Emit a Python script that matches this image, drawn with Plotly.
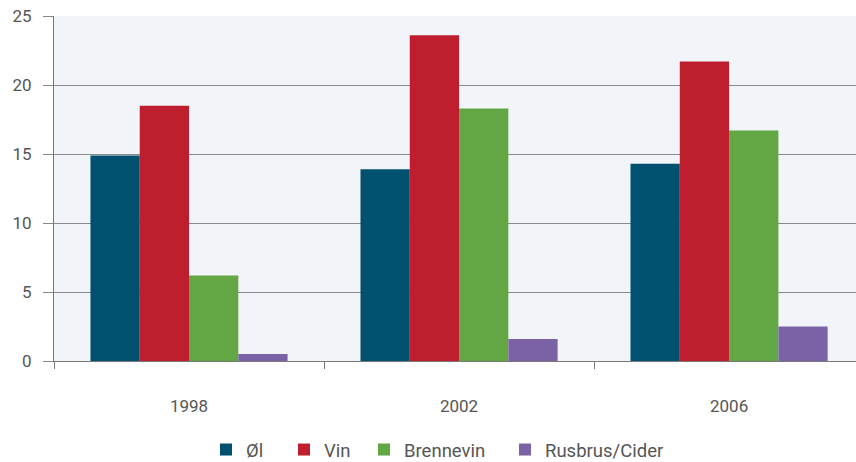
import plotly.graph_objects as go

years = ["1998", "2002", "2006"]
series_names = ["Øl", "Vin", "Brennevin", "Rusbrus/Cider"]
ol = [14.9, 13.9, 14.3]
vin = [18.5, 23.6, 21.7]
brennevin = [6.2, 18.3, 16.7]
rusbrus = [0.5, 1.6, 2.5]
y_ticks = [0, 5, 10, 15, 20, 25]

colors = ["#00506F", "#BE1E2D", "#62A744", "#7B62A6"]
values = [ol, vin, brennevin, rusbrus]
legend_px = [220, 298, 378, 519]  # left edge of each legend swatch, in pixels

L, R, T, B, W, H = 54, 0, 16, 101, 856, 462
pw = W - L - R
ph = H - T - B

fig = go.Figure()
legend_ids = ["legend", "legend2", "legend3", "legend4"]
for name, vals, c, lid in zip(series_names, values, colors, legend_ids):
    fig.add_trace(go.Bar(x=years, y=vals, name=name, legend=lid,
                         marker=dict(color=c, line=dict(width=0))))

layout_legends = {}
for lid, px in zip(legend_ids, legend_px):
    layout_legends[lid] = dict(orientation="h", x=(px - 14 - L) / pw, xanchor="left",
                               y=(T + ph - 450) / ph, yanchor="middle",
                               font=dict(size=18.5, color="#555555"), itemwidth=30,
                               bgcolor="rgba(0,0,0,0)")

fig.update_layout(
    width=W, height=H,
    margin=dict(l=L, r=R, t=T, b=B, autoexpand=False),
    barmode="group", bargap=0.27, bargroupgap=0,
    plot_bgcolor="#F1F4F8", paper_bgcolor="white",
    font=dict(family="Roboto, sans-serif", size=17, color="#555555"),
    showlegend=True,
    **layout_legends,
)
fig.update_xaxes(type="category", range=[-0.5, 2.47], tickson="boundaries", ticks="outside",
                 ticklen=7, tickcolor="#777777", showline=True, linecolor="#777777", linewidth=1,
                 showgrid=False, ticklabelstandoff=30, automargin=False)
fig.update_yaxes(range=[0, 25], tickvals=y_ticks, ticks="outside", ticklen=10, tickcolor="#888888",
                 showline=True, linecolor="#777777", linewidth=1, gridcolor="#8A8A8A", gridwidth=1,
                 zeroline=False, ticklabelstandoff=8, automargin=False)
fig.write_html("out.html", config={"displayModeBar": False},
               post_script="document.body.style.margin='0';")
